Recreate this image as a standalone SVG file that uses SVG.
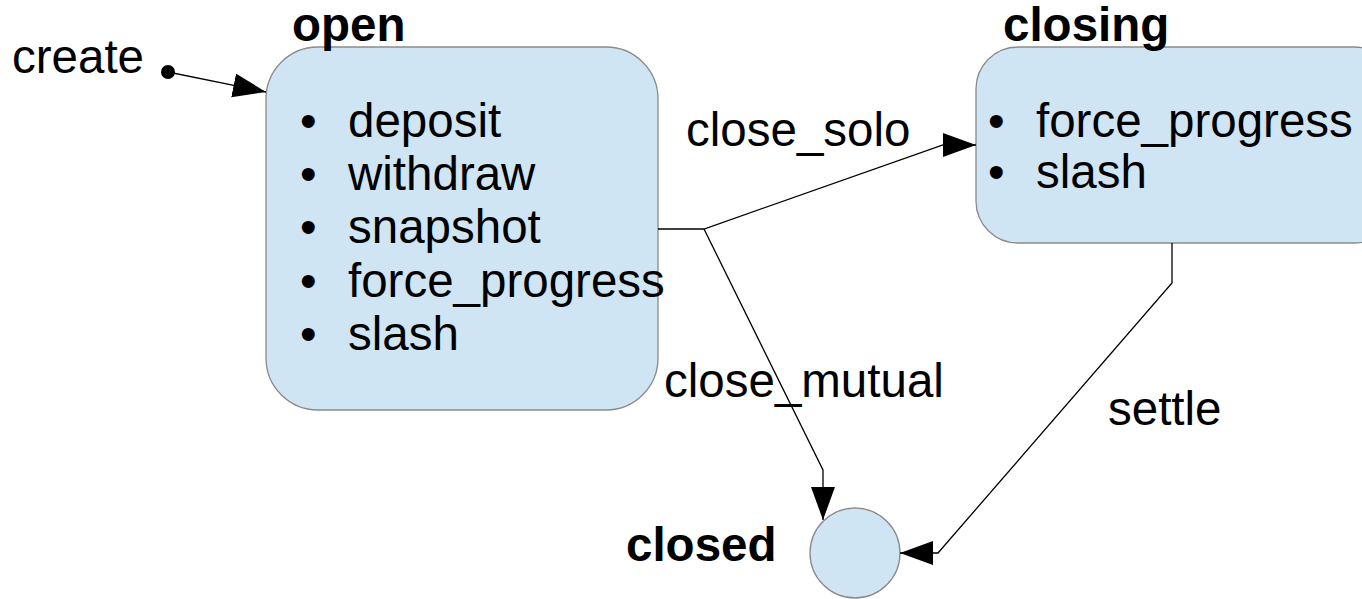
<svg xmlns="http://www.w3.org/2000/svg" width="1362" height="599" viewBox="0 0 1362 599">
<style>
text{font-family:"Liberation Sans",Arial,sans-serif;font-size:47.5px;fill:#000}
.b{font-weight:bold}
.st{fill:#cfe5f3;stroke:#8a8a8a;stroke-width:1.3}
.c{fill:none;stroke:#000;stroke-width:1.3}
</style>
<defs>
<marker id="ah" markerUnits="userSpaceOnUse" markerWidth="36" markerHeight="26" refX="33" refY="12" orient="auto" viewBox="0 0 36 26">
<path d="M0,0 L33,12 L0,24 z" fill="#000"/>
</marker>
</defs>
<g id="open">
<rect class="st" x="266" y="47" width="392" height="363" rx="52" ry="52"/>
<text class="b" x="292" y="41">open</text>
<text x="300" y="137">•</text><text x="348" y="137">deposit</text>
<text x="300" y="190">•</text><text x="348" y="190">withdraw</text>
<text x="300" y="243">•</text><text x="348" y="243">snapshot</text>
<text x="300" y="297">•</text><text x="348" y="297">force_progress</text>
<text x="300" y="350">•</text><text x="348" y="350">slash</text>
</g>
<g id="closing">
<rect class="st" x="976" y="47" width="420" height="196" rx="42" ry="42"/>
<text class="b" x="1003" y="41">closing</text>
<text x="988" y="137">•</text><text x="1036" y="137">force_progress</text>
<text x="988" y="188">•</text><text x="1036" y="188">slash</text>
</g>
<g id="closed">
<circle class="st" cx="855" cy="553" r="45"/>
<text class="b" x="626" y="561">closed</text>
</g>
<g id="start">
<circle cx="168" cy="72" r="7" fill="#000"/>
<text x="12" y="73">create</text>
</g>
<g id="connectors">
<path class="c" d="M168,72 L266,92" marker-end="url(#ah)"/>
<path class="c" d="M658,229 L704,229 L943,145 L976,145" marker-end="url(#ah)"/>
<path class="c" d="M704,229 L823,470 L823,520" marker-end="url(#ah)"/>
<path class="c" d="M1172,243 L1172,283 L938,553 L900,553" marker-end="url(#ah)"/>
<text x="686" y="146">close_solo</text>
<text x="664" y="397">close_mutual</text>
<text x="1108" y="425">settle</text>
</g>
</svg>
